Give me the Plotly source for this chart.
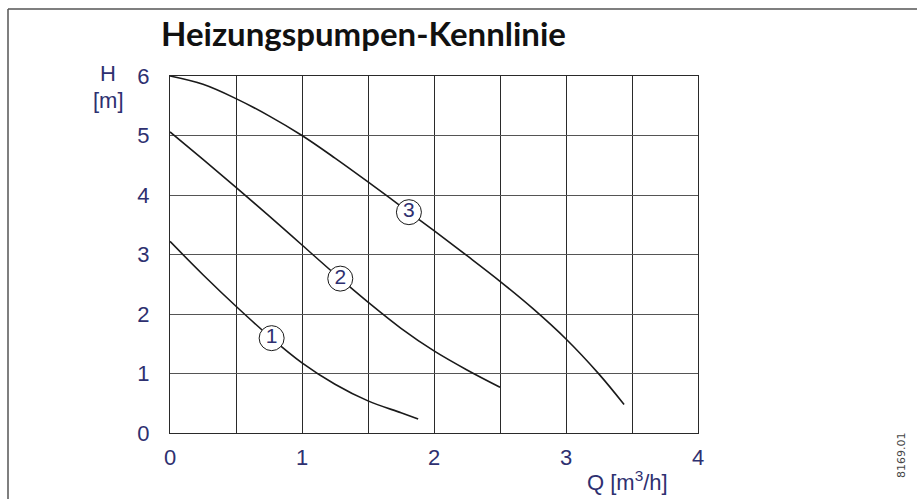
import numpy as np
import plotly.graph_objects as go

# Pump characteristic curves: flow Q [m³/h] vs. head H [m]
q_curve1 = [0.0, 0.25, 0.5, 0.75, 1.0, 1.25, 1.5, 1.75, 1.88]
h_curve1 = [3.22, 2.66, 2.13, 1.63, 1.18, 0.82, 0.54, 0.34, 0.235]

q_curve2 = [0.0, 0.25, 0.5, 0.75, 1.0, 1.25, 1.5, 1.75, 2.0, 2.25, 2.5]
h_curve2 = [5.06, 4.6, 4.13, 3.65, 3.16, 2.67, 2.2, 1.76, 1.38, 1.06, 0.77]

q_curve3 = [0.0, 0.25, 0.5, 0.75, 1.0, 1.25, 1.5, 1.75, 2.0, 2.25, 2.5, 2.75, 3.0, 3.25, 3.44]
h_curve3 = [6.0, 5.86, 5.62, 5.33, 5.0, 4.62, 4.22, 3.81, 3.4, 2.98, 2.55, 2.09, 1.58, 0.99, 0.48]

curve_names = ["1", "2", "3"]
label_q = [0.77, 1.29, 1.81]

x_tickvals = [0, 1, 2, 3, 4]
x_ticktext = ["0", "1", "2", "3", "4"]
x_minor_grid = [0.5, 1.5, 2.5, 3.5]
y_tickvals = [0, 1, 2, 3, 4, 5, 6]
y_ticktext = ["0", "1", "2", "3", "4", "5", "6"]

NAVY = "#2e3070"
LINE = "#1a1a1a"

fig = go.Figure()

curves = [(q_curve1, h_curve1), (q_curve2, h_curve2), (q_curve3, h_curve3)]
for (q, h) in curves:
    fig.add_trace(go.Scatter(
        x=q, y=h, mode="lines",
        line=dict(color=LINE, width=1.6, shape="spline", smoothing=1.0),
        hoverinfo="skip", showlegend=False,
    ))

# circled curve numbers sitting on each curve
for (q, h), name, lq in zip(curves, curve_names, label_q):
    lh = float(np.interp(lq, q, h))
    fig.add_trace(go.Scatter(
        x=[lq], y=[lh], mode="markers+text",
        marker=dict(size=25, color="white", line=dict(color=LINE, width=1)),
        text=[name], textposition="middle center",
        textfont=dict(family="Liberation Sans, Arial, sans-serif", size=21, color=NAVY),
        hoverinfo="skip", showlegend=False,
    ))

L, R, T, B = 170, 219, 76, 66
W, H = 917, 499
pw, ph = W - L - R, H - T - B


def px_x(px):
    return (px - L) / pw


def px_y(py):
    return (H - B - py) / ph


tick_font = dict(family="Liberation Sans, Arial, sans-serif", size=22, color=NAVY)

fig.update_layout(
    width=W, height=H,
    margin=dict(l=L, r=R, t=T, b=B, pad=0),
    paper_bgcolor="white", plot_bgcolor="white",
    xaxis=dict(
        range=[0, 4], tickvals=x_tickvals, ticktext=x_ticktext,
        showgrid=True, gridcolor="#2a2a2a", gridwidth=1.1,
        minor=dict(tickvals=x_minor_grid, showgrid=True, gridcolor="#2a2a2a", gridwidth=1.1, ticks=""),
        zeroline=False, showline=True, linecolor="#2a2a2a", linewidth=1.2, mirror=True,
        ticks="", ticklabelstandoff=4, tickfont=tick_font, fixedrange=True,
    ),
    yaxis=dict(
        range=[0, 6], tickvals=y_tickvals, ticktext=y_ticktext,
        showgrid=True, gridcolor="#555555", gridwidth=1.4,
        zeroline=False, showline=True, linecolor="#2a2a2a", linewidth=1.2, mirror=True,
        ticks="", ticklabelstandoff=15, tickfont=tick_font, fixedrange=True,
    ),
    showlegend=False,
)

annotations = [
    dict(text="<b>Heizungspumpen-Kennlinie</b>", x=px_x(159), y=px_y(33),
         xanchor="left", yanchor="middle",
         font=dict(family="Lato, sans-serif", size=33, color="#111111")),
    dict(text="H", x=px_x(107.5), y=px_y(73), xanchor="center", yanchor="middle",
         font=tick_font),
    dict(text="[m]", x=px_x(108), y=px_y(101), xanchor="center", yanchor="middle",
         font=tick_font),
    dict(text="Q [m<sup>3</sup>/h]", x=px_x(627), y=px_y(481), xanchor="center", yanchor="middle",
         font=tick_font),
    dict(text="8169.01", x=px_x(901), y=px_y(455), xanchor="center", yanchor="middle",
         textangle=-90,
         font=dict(family="DejaVu Sans, sans-serif", size=11, color="#444444")),
]
for a in annotations:
    a.update(xref="paper", yref="paper", showarrow=False)
fig.update_layout(annotations=annotations)

# outer frame: left and top edges
fig.add_shape(type="line", xref="paper", yref="paper",
              x0=px_x(8), y0=px_y(9), x1=px_x(930), y1=px_y(9),
              line=dict(color="#555555", width=1.5))
fig.add_shape(type="line", xref="paper", yref="paper",
              x0=px_x(8), y0=px_y(9), x1=px_x(8), y1=px_y(510),
              line=dict(color="#555555", width=1.5))

fig.write_html("out.html", config={"displayModeBar": False})
